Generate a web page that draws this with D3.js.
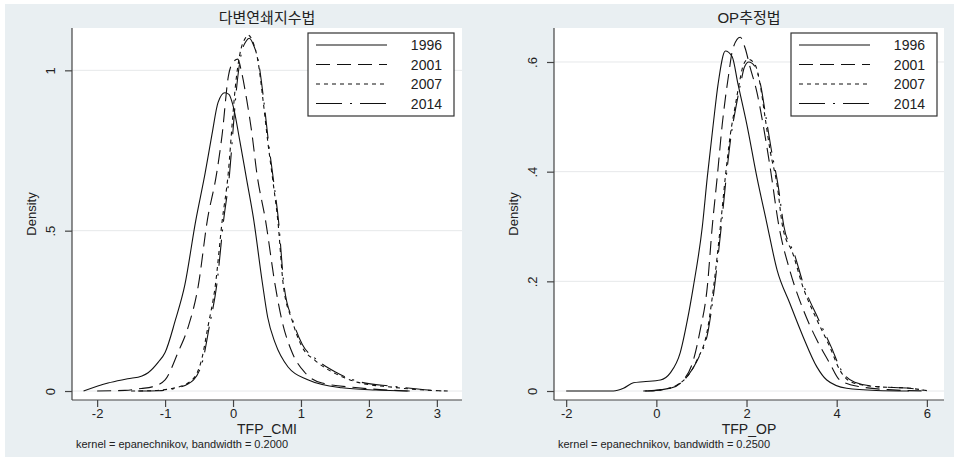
<!DOCTYPE html>
<html>
<head>
  <meta charset="utf-8">
  <script src="https://d3js.org/d3.v7.min.js"></script>
  <style>
    body { margin: 0; background: #ffffff; }
    text { font-family: "Liberation Sans", Arial, sans-serif; fill: #222; }
  </style>
</head>
<body>
  <div id="chart"></div>
  <script>

  // series names
  var years = ["1996", "2001", "2007", "2014"]

  // left panel: TFP_CMI density, [x, density]
  var cmi1996 = [[-2.2,0],[-1.84,0.025],[-1.55,0.038],[-1.34,0.047],[-1.25,0.057],[-1.1,0.09],[-1.0,0.12],
    [-0.85,0.22],[-0.71,0.33],[-0.55,0.53],[-0.41,0.68],[-0.31,0.8],[-0.22,0.9],[-0.12,0.93],[-0.06,0.925],
    [0.0,0.89],[0.1,0.78],[0.2,0.66],[0.3,0.54],[0.43,0.34],[0.51,0.23],[0.62,0.15],[0.81,0.075],
    [1.1,0.035],[1.6,0.01],[2.1,0.003],[2.6,0]]
  var cmi2001 = [[-2.0,0],[-1.59,0.002],[-1.35,0.008],[-1.19,0.013],[-1.0,0.035],[-0.81,0.12],[-0.66,0.2],
    [-0.51,0.33],[-0.38,0.53],[-0.24,0.68],[-0.16,0.8],[-0.07,0.98],[0.0,1.025],[0.07,1.035],[0.13,0.99],
    [0.2,0.91],[0.28,0.8],[0.35,0.68],[0.48,0.53],[0.62,0.33],[0.72,0.22],[0.87,0.12],[1.06,0.057],
    [1.31,0.025],[1.84,0.01],[2.57,0]]
  var cmi2007 = [[-1.5,0],[-1.2,0.001],[-0.85,0.01],[-0.6,0.035],[-0.46,0.1],[-0.37,0.2],[-0.26,0.33],
    [-0.16,0.53],[-0.07,0.68],[-0.01,0.84],[0.03,0.94],[0.1,1.05],[0.18,1.1],[0.22,1.11],[0.29,1.09],
    [0.37,1.025],[0.44,0.91],[0.51,0.78],[0.59,0.65],[0.66,0.53],[0.74,0.33],[0.87,0.22],[1.01,0.14],
    [1.21,0.095],[1.5,0.055],[1.84,0.027],[2.34,0.012],[2.82,0.003],[3.16,0]]
  var cmi2014 = [[-1.4,0],[-1.1,0.001],[-0.82,0.01],[-0.58,0.035],[-0.44,0.1],[-0.35,0.2],[-0.24,0.33],
    [-0.14,0.53],[-0.05,0.68],[0.01,0.84],[0.05,0.94],[0.12,1.05],[0.19,1.09],[0.24,1.1],[0.3,1.08],
    [0.38,1.02],[0.45,0.91],[0.52,0.78],[0.6,0.65],[0.67,0.53],[0.75,0.33],[0.88,0.22],[1.02,0.145],
    [1.22,0.1],[1.5,0.06],[1.84,0.03],[2.34,0.015],[2.82,0.004],[3.1,0]]

  // right panel: TFP_OP density
  var op1996 = [[-2.0,0],[-0.95,0],[-0.73,0.005],[-0.51,0.015],[-0.29,0.017],[0.09,0.02],[0.31,0.033],
    [0.53,0.07],[0.69,0.13],[0.82,0.19],[1.02,0.3],[1.13,0.39],[1.26,0.485],[1.37,0.56],[1.53,0.62],
    [1.68,0.61],[1.81,0.56],[2.01,0.485],[2.23,0.39],[2.44,0.31],[2.68,0.22],[2.96,0.16],[3.25,0.1],
    [3.56,0.044],[3.78,0.02],[4.22,0.005],[4.88,0.001],[5.6,0]]
  var op2001 = [[-0.2,0],[0.31,0.005],[0.6,0.02],[0.82,0.056],[0.97,0.11],[1.13,0.19],[1.24,0.3],
    [1.35,0.39],[1.46,0.485],[1.6,0.575],[1.7,0.625],[1.86,0.645],[1.97,0.625],[2.08,0.59],[2.23,0.545],
    [2.37,0.485],[2.52,0.41],[2.72,0.3],[2.96,0.22],[3.25,0.15],[3.56,0.093],[3.85,0.05],[4.07,0.02],
    [4.51,0.008],[5.24,0.002],[6.0,0]]
  var op2007 = [[-0.29,0],[0.09,0.002],[0.46,0.011],[0.68,0.026],[0.9,0.056],[1.13,0.11],[1.27,0.19],
    [1.42,0.3],[1.53,0.39],[1.64,0.467],[1.75,0.52],[1.86,0.57],[1.93,0.595],[2.04,0.605],[2.19,0.595],
    [2.3,0.56],[2.41,0.5],[2.52,0.44],[2.68,0.375],[2.8,0.3],[3.03,0.25],[3.25,0.19],[3.56,0.13],
    [3.85,0.08],[4.07,0.038],[4.36,0.015],[4.88,0.008],[5.62,0.005],[6.06,0]]
  var op2014 = [[-0.25,0],[0.1,0.002],[0.48,0.012],[0.7,0.028],[0.92,0.058],[1.15,0.11],[1.29,0.19],
    [1.44,0.3],[1.55,0.39],[1.66,0.467],[1.77,0.52],[1.88,0.565],[1.95,0.59],[2.05,0.6],[2.2,0.59],
    [2.32,0.555],[2.43,0.5],[2.55,0.44],[2.7,0.375],[2.83,0.3],[3.06,0.25],[3.28,0.19],[3.6,0.13],
    [3.88,0.08],[4.1,0.038],[4.4,0.016],[4.9,0.008],[5.62,0.005],[6.02,0]]

  // tick values
  var cmiXTicks = [-2, -1, 0, 1, 2, 3]
  var cmiYTicks = [0, 0.5, 1]
  var opXTicks = [-2, 0, 2, 4, 6]
  var opYTicks = [0, 0.2, 0.4, 0.6]

  var dashes = ["none", "14,7", "4,4", "26,8,2,8"]

  var W = 954, H = 457

  var svg = d3.select("#chart").append("svg")
    .attr("width", W)
    .attr("height", H)

  // graph region background
  svg.append("rect")
    .attr("x", 5).attr("y", 4)
    .attr("width", W - 5).attr("height", H - 4)
    .attr("fill", "#e9eff2")

  function yFmt(d) {
    if (d === 0) return "0"
    if (d === 1) return "1"
    return String(d).replace(/^0/, "")
  }

  function drawPanel(p) {
    var x = d3.scaleLinear().domain(p.xDomain).range([p.left, p.right])
    var y = d3.scaleLinear().domain(p.yDomain).range([p.bottom, p.top])

    var g = svg.append("g")

    // plot region
    g.append("rect")
      .attr("x", p.left).attr("y", p.top)
      .attr("width", p.right - p.left).attr("height", p.bottom - p.top)
      .attr("fill", "#ffffff")

    // grid lines
    g.selectAll(".grid")
      .data(p.yTicks)
      .enter().append("line")
      .attr("x1", p.left).attr("x2", p.right)
      .attr("y1", function(d) { return y(d) })
      .attr("y2", function(d) { return y(d) })
      .attr("stroke", "#e6e8ea")
      .attr("stroke-width", 1)

    // curves
    var line = d3.line()
      .x(function(d) { return x(d[0]) })
      .y(function(d) { return y(d[1]) })
      .curve(d3.curveMonotoneX)

    p.series.forEach(function(s, i) {
      g.append("path")
        .attr("d", line(s))
        .attr("fill", "none")
        .attr("stroke", "#111")
        .attr("stroke-width", 1.1)
        .attr("stroke-dasharray", dashes[i])
    })

    // y axis
    var yAxis = g.append("g")
      .attr("transform", "translate(" + p.left + ",0)")
      .call(d3.axisLeft(y).tickValues(p.yTicks).tickFormat(yFmt).tickSize(7).tickSizeOuter(0))
    yAxis.select(".domain").attr("d", "M0," + p.top + "V" + p.bottom)
    yAxis.selectAll("line, path").attr("stroke", "#444").attr("stroke-width", 1.2)
    yAxis.selectAll("text")
      .attr("transform", "rotate(-90)")
      .attr("x", 0).attr("y", -17).attr("dy", 0)
      .attr("text-anchor", "middle")
      .style("font-family", "'Liberation Sans', Arial, sans-serif")
      .style("font-size", "13px")
      .attr("fill", "#222")

    // x axis
    var xAxis = g.append("g")
      .attr("transform", "translate(0," + p.axisY + ")")
      .call(d3.axisBottom(x).tickValues(p.xTicks).tickFormat(d3.format("d")).tickSize(7).tickSizeOuter(0))
    xAxis.select(".domain").attr("d", "M" + p.left + ",0H" + p.right)
    xAxis.selectAll("line, path").attr("stroke", "#444").attr("stroke-width", 1.2)
    xAxis.selectAll("text")
      .attr("y", 18).attr("dy", 0)
      .style("font-family", "'Liberation Sans', Arial, sans-serif")
      .style("font-size", "13px")
      .attr("fill", "#222")
      .text(function(d) { return d < 0 ? "-" + Math.abs(d) : d })

    var cx = (p.left + p.right) / 2

    // title
    g.append("text")
      .attr("x", cx).attr("y", 23)
      .attr("text-anchor", "middle")
      .style("font-family", "'Liberation Sans', 'Noto Sans CJK KR', sans-serif")
      .style("font-size", "15px")
      .text(p.title)

    // axis titles
    g.append("text")
      .attr("transform", "translate(" + (p.left - 36) + "," + ((p.top + p.bottom) / 2) + ") rotate(-90)")
      .attr("text-anchor", "middle")
      .style("font-size", "13px")
      .text("Density")

    g.append("text")
      .attr("x", cx).attr("y", 434)
      .attr("text-anchor", "middle")
      .style("font-size", "14px")
      .text(p.xTitle)

    g.append("text")
      .attr("x", p.left + 4).attr("y", 448)
      .style("font-size", "11px")
      .text(p.note)

    // legend
    var lg = g.append("g").attr("transform", "translate(" + p.legX + "," + p.legY + ")")
    lg.append("rect")
      .attr("width", 146).attr("height", 83)
      .attr("fill", "#ffffff")
      .attr("stroke", "#333")
      .attr("stroke-width", 1.2)
    years.forEach(function(yr, i) {
      var ly = 12 + i * 19.5
      lg.append("line")
        .attr("x1", 8).attr("x2", 79)
        .attr("y1", ly).attr("y2", ly)
        .attr("stroke", "#111")
        .attr("stroke-width", 1.1)
        .attr("stroke-dasharray", dashes[i])
      lg.append("text")
        .attr("x", 134).attr("y", ly + 5)
        .attr("text-anchor", "end")
        .style("font-size", "14px")
        .text(yr)
    })
  }

  drawPanel({
    title: "다변연쇄지수법",
    xTitle: "TFP_CMI",
    note: "kernel = epanechnikov, bandwidth = 0.2000",
    series: [cmi1996, cmi2001, cmi2007, cmi2014],
    xDomain: [-2.37, 3.37], yDomain: [-0.028, 1.132],
    xTicks: cmiXTicks, yTicks: cmiYTicks,
    left: 72, right: 462, top: 28, bottom: 400, axisY: 400,
    legX: 308, legY: 33
  })

  drawPanel({
    title: "OP추정법",
    xTitle: "TFP_OP",
    note: "kernel = epanechnikov, bandwidth = 0.2500",
    series: [op1996, op2001, op2007, op2014],
    xDomain: [-2.27, 6.38], yDomain: [-0.0164, 0.662],
    xTicks: opXTicks, yTicks: opYTicks,
    left: 554, right: 944, top: 28, bottom: 400, axisY: 400,
    legX: 791, legY: 33
  })

  </script>
</body>
</html>
